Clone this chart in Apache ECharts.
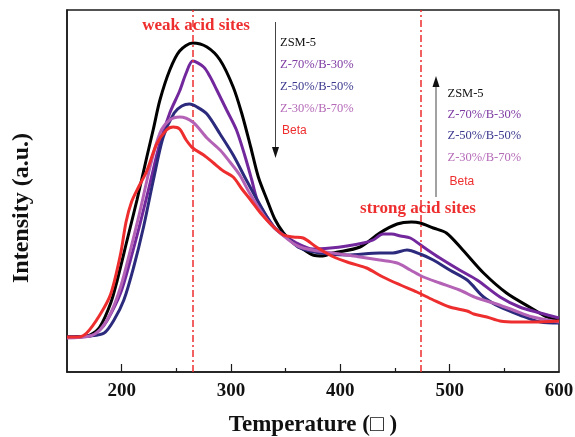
<!DOCTYPE html>
<html>
<head>
<meta charset="utf-8">
<script src="https://cdn.jsdelivr.net/npm/echarts@6/dist/echarts.min.js"></script>
<style>html,body{margin:0;padding:0;background:#fff}#c{width:575px;height:437px}</style>
</head>
<body>
<div id="c"></div>
<script>
// ---- data (Temperature °C, intensity a.u.) ----
var seriesNames = ['ZSM-5', 'Z-70%/B-30%', 'Z-50%/B-50%', 'Z-30%/B-70%', 'Beta'];
var xTickLabels = [200, 300, 400, 500, 600];
var majorTicks = [200, 300, 400, 500];
var minorTicks = [250, 350, 450, 550];
var peakLines = [265, 474];

var zsm5 = [[150,35],[162,35],[171,37],[180,45],[190,69],[196,92],[205,132],[214,172],[223,215],[229,243],[235,272],[244,302],[253,321],[265,329],[278,325],[290,312],[302,285],[310,258],[318,225],[325,195],[333,172],[340,153],[348,139],[356,130],[363,125],[375,117],[384,116],[393,119],[418,125],[436,139],[452,148],[465,150],[473,149],[485,144],[497,139],[512,122],[531,99],[552,79],[573,65],[589,55],[600,52]];
var z70b30 = [[150,35],[171,36],[180,42],[187,52],[199,79],[208,112],[217,149],[226,189],[235,229],[244,259],[253,281],[259,299],[265,311],[275,305],[281,295],[287,282],[296,262],[305,242],[313,215],[319,192],[324,172],[333,155],[342,142],[360,129],[375,123],[391,124],[406,126],[421,129],[430,132],[439,138],[447,138],[455,136],[464,134],[476,125],[491,114],[509,102],[525,92],[546,75],[564,65],[583,59],[600,54]];
var z50b50 = [[150,35],[171,36],[184,39],[193,52],[202,72],[211,105],[220,145],[229,192],[238,235],[248,259],[255,266],[262,268],[269,265],[278,258],[290,238],[302,217],[314,192],[324,172],[339,145],[351,135],[363,124],[381,119],[406,117],[436,119],[448,119],[461,122],[473,118],[485,112],[500,102],[516,92],[531,75],[546,65],[564,57],[583,50],[600,49]];
var z30b70 = [[150,34],[171,36],[180,42],[190,59],[199,85],[208,122],[217,162],[226,205],[235,239],[244,252],[253,255],[265,250],[278,234],[290,222],[299,210],[308,197],[317,179],[333,152],[345,139],[363,125],[393,119],[418,115],[436,112],[452,109],[464,102],[476,95],[491,89],[509,82],[525,74],[540,69],[558,62],[576,55],[600,50]];
var beta = [[150,35],[160,35],[168,39],[180,57],[190,78],[199,118],[204,150],[209,170],[215,184],[223,201],[232,228],[241,242],[247,245],[253,243],[259,232],[265,224],[275,217],[284,209],[293,201],[302,195],[310,183],[318,172],[327,159],[339,145],[348,137],[357,135],[366,134],[378,125],[394,115],[409,109],[424,104],[439,95],[455,87],[470,80],[485,72],[500,65],[516,61],[522,58],[534,55],[546,51],[561,50],[576,50],[600,51]];

var lineColors = ['#000000', '#72289C', '#2C2A7C', '#B462B6', '#EE2E2E'];
var textColors = ['#111111', '#7E3AA2', '#3C3A8E', '#B56AB8', '#EE2E2E'];
var allData = [zsm5, z70b30, z50b50, z30b70, beta];

var chart = echarts.init(document.getElementById('c'), null, {renderer: 'canvas'});
var serif = '"Liberation Serif","Times New Roman",serif';
var sans = '"Liberation Sans",Arial,sans-serif';
var red = '#EE2E2E';

var series = allData.map(function (d, i) {
  return {
    name: seriesNames[i], type: 'line', data: d, smooth: 0.3, showSymbol: false,
    lineStyle: {color: lineColors[i], width: 3}, itemStyle: {color: lineColors[i]},
    z: 3 + i,
    xAxisIndex: 0, yAxisIndex: 0
  };
});
series[0].markLine = {
  silent: true, symbol: 'none', label: {show: false},
  lineStyle: {color: red, width: 1.5, type: [7, 3, 2, 3]},
  data: peakLines.map(function (v) { return {xAxis: v}; })
};

function legendTexts(x, ys) {
  return seriesNames.map(function (n, i) {
    return {
      type: 'text', x: x + (i === 4 ? 2 : 0), y: ys[i], z: 20,
      style: {text: n, fill: textColors[i], font: (i === 4 ? '12px ' + sans : '12.5px ' + serif),
        textAlign: 'left', textVerticalAlign: 'middle', align: 'left', verticalAlign: 'middle'}
    };
  });
}

var graphics = [
  {type: 'text', x: 196, y: 26, z: 20, style: {text: 'weak acid sites', fill: red, font: 'bold 17px ' + serif, textAlign: 'center', textVerticalAlign: 'middle', align: 'center', verticalAlign: 'middle'}},
  {type: 'text', x: 418, y: 209, z: 20, style: {text: 'strong acid sites', fill: red, font: 'bold 17px ' + serif, textAlign: 'center', textVerticalAlign: 'middle', align: 'center', verticalAlign: 'middle'}},
  {type: 'text', x: 22, y: 208, z: 20, rotation: Math.PI / 2, style: {text: 'Intensity (a.u.)', fill: '#111', font: 'bold 24px ' + serif, textAlign: 'center', textVerticalAlign: 'middle', align: 'center', verticalAlign: 'middle'}},
  {type: 'line', z: 20, shape: {x1: 275.5, y1: 22, x2: 275.5, y2: 148}, style: {stroke: '#444', lineWidth: 1}},
  {type: 'polygon', z: 20, shape: {points: [[272, 147], [279, 147], [275.5, 158]]}, style: {fill: '#111'}},
  {type: 'line', z: 20, shape: {x1: 436, y1: 197, x2: 436, y2: 86}, style: {stroke: '#444', lineWidth: 1}},
  {type: 'polygon', z: 20, shape: {points: [[432.5, 87], [439.5, 87], [436, 76]]}, style: {fill: '#111'}}
].concat(legendTexts(280, [43, 65, 87, 108.5, 131])).concat(legendTexts(447.5, [93.5, 114.5, 136, 157.5, 181.5]));

chart.setOption({
  animation: false,
  backgroundColor: '#fff',
  grid: {left: 67, right: 16, top: 10, bottom: 65, outerBoundsMode: 'none', containLabel: false, show: true, borderColor: '#1a1a1a', borderWidth: 1.5, backgroundColor: 'transparent'},
  xAxis: [{
    type: 'value', min: 150, max: 600, position: 'bottom',
    axisLine: {show: true, onZero: false, lineStyle: {color: '#1a1a1a', width: 1.5}},
    axisTick: {show: true, inside: true, length: 8, customValues: majorTicks, lineStyle: {color: '#1a1a1a', width: 1.2}},
    axisLabel: {show: true, customValues: xTickLabels, margin: 10, color: '#111', fontFamily: serif, fontWeight: 'bold', fontSize: 19},
    splitLine: {show: false},
    name: 'Temperature (\u25A1 )', nameLocation: 'middle', nameGap: 42,
    nameTextStyle: {color: '#111', fontFamily: serif, fontWeight: 'bold', fontSize: 23}
  }, {
    type: 'value', min: 150, max: 600, position: 'bottom', offset: 0,
    axisLine: {show: false, onZero: false},
    axisTick: {show: true, inside: true, length: 4, customValues: minorTicks, lineStyle: {color: '#1a1a1a', width: 1.2}},
    axisLabel: {show: false},
    splitLine: {show: false}
  }],
  yAxis: [{
    type: 'value', min: 0, max: 362,
    axisLine: {show: true, lineStyle: {color: '#1a1a1a', width: 1.5}},
    axisTick: {show: false}, axisLabel: {show: false}, splitLine: {show: false}
  }],
  series: series,
  graphic: graphics
});
</script>
</body>
</html>
